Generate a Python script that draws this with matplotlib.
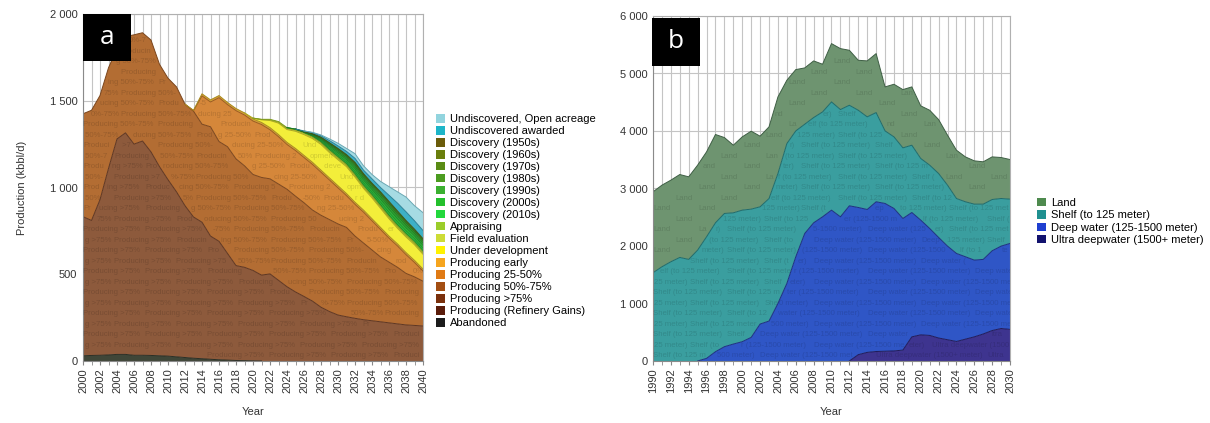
import numpy as np
import matplotlib
matplotlib.use('Agg')
import matplotlib.pyplot as plt
from matplotlib.patches import Rectangle, Patch
from matplotlib.ticker import FuncFormatter, MultipleLocator

plt.rcParams['font.family'] = ['Liberation Sans', 'DejaVu Sans']

# ---------------- Panel a data (kbbl/d) ----------------
years_a = list(range(2000, 2041))
abandoned = [30, 32, 33, 35, 38, 38, 33, 33, 32, 30, 28, 24, 20, 16, 13, 10, 7, 5, 3, 2,
             1, 0, 0, 0, 0, 0, 0, 0, 0, 0, 0, 0, 0, 0, 0, 0, 0, 0, 0, 0, 0]
refinery = [0] * 41
prod_75 = [802, 778, 897, 1075, 1242, 1277, 1217, 1235, 1173, 1090,
           1017, 951, 875, 814, 787, 710, 683, 615, 547, 538,
           521, 495, 502, 465, 428, 398, 372, 345, 310, 285,
           265, 255, 246, 238, 232, 226, 220, 214, 208, 205, 202]
prod_50_75 = [593, 635, 600, 580, 520, 555, 630, 624, 645, 590,
              585, 605, 585, 610, 565, 630, 575, 615, 615, 585,
              553, 563, 548, 555, 562, 552, 540, 525, 530, 530,
              525, 515, 474, 442, 408, 374, 350, 326, 297, 280, 258]
prod_25_50 = [0, 0, 0, 0, 0, 0, 0, 0, 0, 0,
              0, 0, 0, 3, 163, 143, 253, 243, 278, 293,
              308, 305, 283, 273, 258, 263, 261, 263, 248, 228,
              208, 183, 183, 178, 168, 158, 138, 123, 108, 83, 58]
prod_early = [0, 0, 0, 0, 0, 0, 0, 0, 0, 0,
              0, 0, 0, 2, 12, 12, 12, 12, 12, 12,
              12, 12, 12, 12, 12, 12, 12, 12, 12, 12,
              12, 12, 12, 12, 12, 12, 12, 12, 12, 12, 12]
under_dev = [0] * 20 + [5, 15, 41, 66, 74, 99, 120, 137, 148, 146,
                        150, 155, 145, 125, 120, 110, 100, 90, 90, 90, 85]
field_eval = [0] * 21 + [2, 4, 5, 6, 6, 7, 7, 8, 8,
                         8, 8, 8, 8, 8, 8, 8, 8, 8, 8, 8]
appraising = [0] * 21 + [1, 3, 4, 5, 5, 6, 6, 6, 7,
                         7, 7, 7, 7, 7, 7, 7, 7, 7, 7, 7]
disc_2010s = [0] * 25 + [0, 0, 2, 3, 4, 4, 4, 6, 6, 6, 7, 7, 7, 7, 7, 7]
disc_2000s = [0] * 25 + [0, 0, 2, 5, 7, 9, 10, 12, 12, 12, 14, 15, 15, 14, 13, 13]
disc_1990s = [0] * 25 + [1, 1, 3, 6, 9, 11, 12, 15, 15, 15, 17, 18, 18, 17, 16, 16]
disc_1980s = [0] * 25 + [1, 1, 3, 5, 8, 9, 10, 13, 13, 13, 15, 16, 16, 15, 14, 14]
disc_1970s = [0] * 25 + [0, 1, 2, 4, 6, 8, 9, 11, 11, 11, 13, 13, 13, 13, 12, 12]
disc_1960s = [0] * 25 + [0, 1, 2, 3, 5, 6, 6, 8, 8, 8, 9, 10, 10, 9, 8, 8]
disc_1950s = [0] * 25 + [0, 0, 1, 2, 3, 3, 4, 5, 5, 5, 5, 6, 6, 5, 5, 5]
undisc_awarded = [0] * 26 + [4, 6, 8, 12, 15, 18, 23, 20, 25, 25, 35, 45, 50, 48, 47]
undisc_open = [0] * 27 + [2, 5, 10, 15, 17, 27, 25, 25, 35, 50, 65, 85, 87, 103]

# bottom -> top
labels_a = ['Abandoned', 'Producing (Refinery Gains)', 'Producing >75%', 'Producing 50%-75%',
            'Producing 25-50%', 'Producing early', 'Under development', 'Field evaluation',
            'Appraising', 'Discovery (2010s)', 'Discovery (2000s)', 'Discovery (1990s)',
            'Discovery (1980s)', 'Discovery (1970s)', 'Discovery (1960s)', 'Discovery (1950s)',
            'Undiscovered awarded', 'Undiscovered, Open acreage']
series_a = [abandoned, refinery, prod_75, prod_50_75, prod_25_50, prod_early, under_dev,
            field_eval, appraising, disc_2010s, disc_2000s, disc_1990s, disc_1980s,
            disc_1970s, disc_1960s, disc_1950s, undisc_awarded, undisc_open]
fill_a = ['#3f4638', '#5e2a14', '#8d5a3c', '#b36d33', '#d5873a', '#d6a23a', '#f3ee3a',
          '#d4e040', '#b2d43a', '#3fd84c', '#2fcc3e', '#2dbd36', '#2fae30', '#3a9f2a',
          '#4a8f22', '#5f7f1e', '#3db0c6', '#a6dbe3']
edge_a = ['#2a2e24', '#3e1a0c', '#5e3520', '#7a451c', '#9a5a1e', '#a88a1e', '#b0a820',
          '#9aa820', '#7e9a20', '#1e8a2a', '#1e8a2a', '#1e8028', '#1e7a24', '#26701e',
          '#30661a', '#3e5816', '#2a8096', '#6aa8b4']
legend_a = ['#1b1b1b', '#5a1c0a', '#7a300c', '#a34e12', '#e07a14', '#f6a51e', '#fff200',
            '#cddc36', '#9bcd2a', '#22d83c', '#24c02c', '#3bb030', '#4c9c20', '#5a8c14',
            '#6a7e0c', '#6b5c0a', '#1db5c8', '#92d4de']

# ---------------- Panel b data (kbbl/d) ----------------
years_b = list(range(1990, 2031))
land = [1407, 1419, 1419, 1442, 1436, 1477, 1477, 1535, 1320, 1176,
        1274, 1356, 1228, 1246, 1332, 1101, 1066, 979, 985, 829,
        1014, 1060, 956, 869, 973, 1025, 765, 915, 1013, 1014,
        915, 955, 938, 869, 840, 781, 753, 736, 741, 713, 689]
shelf = [1535, 1639, 1726, 1801, 1767, 1929, 2114, 2242, 2317, 2282,
         2288, 2230, 2039, 2131, 2259, 2432, 2189, 1900, 1830, 1824,
         1882, 1865, 1749, 1691, 1611, 1552, 1262, 1245, 1228, 1170,
         1072, 1101, 1112, 1060, 955, 956, 973, 961, 892, 828, 770]
deep = [0, 0, 0, 0, 0, 0, 46, 162, 249, 295,
        336, 411, 643, 695, 1002, 1350, 1813, 2218, 2404, 2508,
        2624, 2508, 2699, 2560, 2485, 2604, 2570, 2478, 2289, 2163,
        1995, 1860, 1749, 1628, 1531, 1433, 1335, 1297, 1387, 1433, 1495]
ultra = [0] * 23 + [110, 150, 165, 170, 175, 190, 420,
                    455, 445, 400, 370, 340, 380, 420, 470, 530, 565, 550]
labels_b = ['Ultra deepwater (1500+ meter)', 'Deep water (125-1500 meter)',
            'Shelf (to 125 meter)', 'Land']
series_b = [ultra, deep, shelf, land]
fill_b = ['#3e348f', '#2f56c6', '#3a9e9f', '#6e9470']
edge_b = ['#1e1a5a', '#1c2f80', '#1e6a6a', '#3e5e44']
legend_b = ['#12126e', '#1f3fd0', '#1f9090', '#4e8a4e']

W, H = 1210, 423
fig = plt.figure(figsize=(W / 100, H / 100), dpi=100)
renderer = fig.canvas.get_renderer()


def fig_rect(x0, y0, x1, y1):
    return [x0 / W, 1 - y1 / H, (x1 - x0) / W, (y1 - y0) / H]


def thousands(v, pos):
    v = int(round(v))
    if v >= 1000:
        return f"{v // 1000} {v % 1000:03d}"
    return str(v)


def style_axes(ax, ymax, ystep, x0, x1):
    ax.set_xlim(x0, x1)
    ax.set_ylim(0, ymax)
    ax.yaxis.set_major_locator(MultipleLocator(ystep))
    ax.yaxis.set_major_formatter(FuncFormatter(thousands))
    ax.xaxis.set_major_locator(MultipleLocator(2))
    ax.xaxis.set_minor_locator(MultipleLocator(1))
    ax.xaxis.set_major_formatter(FuncFormatter(lambda v, p: f"{int(round(v))}"))
    ax.tick_params(axis='x', which='both', rotation=90, labelsize=8, length=3,
                   color='#888888', labelcolor='#333333', pad=2)
    ax.tick_params(axis='y', labelsize=8, length=0, labelcolor='#333333', pad=4)
    ax.grid(True, which='both', axis='x', color='#c4c4c4', linewidth=0.8)
    ax.grid(True, which='major', axis='y', color='#c4c4c4', linewidth=0.8)
    ax.set_axisbelow(True)
    for s in ax.spines.values():
        s.set_color('#b0b0b0')
        s.set_linewidth(0.8)
    ax.spines['left'].set_color('#8a8a8a')
    ax.spines['bottom'].set_color('#8a8a8a')
    ax.set_xlabel('Year', fontsize=8, color='#333333', labelpad=10)


def draw_layers(ax, years, series, fills, edges):
    polys = ax.stackplot(years, *series, colors=fills, linewidth=0, zorder=2)
    arr = np.array(series, dtype=float)
    cum = np.vstack([np.zeros(arr.shape[1]), np.cumsum(arr, axis=0)])
    for i, ec in enumerate(edges):
        th = arr[i]
        keep = th > 0
        keep = keep | np.r_[keep[1:], False] | np.r_[False, keep[:-1]]
        if not keep.any():
            continue
        ax.plot(years, np.where(keep, cum[i + 1], np.nan), color=ec, lw=0.7, zorder=2.5)
    return polys, cum


def watermark(ax, x, lo, hi, label, axpx, row_px, period_px, fs, alpha=0.14):
    xa0, xa1 = ax.get_xlim()
    ya0, ya1 = ax.get_ylim()
    wpx, hpx = axpx
    dxp = (xa1 - xa0) / wpx
    dyp = (ya1 - ya0) / hpx
    probe = ax.text(0, 0, label, fontsize=fs)
    tw = probe.get_window_extent(renderer).width * 100 / fig.dpi
    probe.remove()
    period_px = max(period_px, tw + 5)
    half_h = 3.3 * dyp
    n = len(label)
    nrow = int(hpx / row_px) + 1
    for r in range(nrow):
        yv = ya0 + (r + 0.5) * row_px * dyp
        shift = (r % 2) * period_px / 2
        for xp in np.arange(-period_px + shift, wpx, period_px):
            xa = xa0 + xp * dxp
            ns = 40
            xx = xa + (np.arange(ns) + 0.5) / ns * tw * dxp
            l = np.interp(xx, x, lo)
            h = np.interp(xx, x, hi)
            ok = (l <= yv - half_h) & (h >= yv + half_h) & (xx >= xa0) & (xx <= xa1)
            best, start, cur_s = 0, 0, None
            for k in range(ns + 1):
                if k < ns and ok[k]:
                    if cur_s is None:
                        cur_s = k
                else:
                    if cur_s is not None and k - cur_s > best:
                        best, start = k - cur_s, cur_s
                    cur_s = None
            if best == 0:
                continue
            c0 = int(np.ceil(start / ns * n))
            c1 = int(np.floor((start + best) / ns * n))
            sub = label[c0:c1]
            if len(sub.strip()) < 2:
                continue
            ax.text(xa + c0 / n * tw * dxp, yv, sub, fontsize=fs, color='black', alpha=alpha,
                    va='center', ha='left', clip_on=True, zorder=3)


# ---------------- Panel a ----------------
axa = fig.add_axes(fig_rect(83, 14, 423, 361))
style_axes(axa, 2000, 500, 2000, 2040)
polys_a, cum_a = draw_layers(axa, years_a, series_a, fill_a, edge_a)
axa.set_ylabel('Production (kbbl/d)', fontsize=8, color='#333333', labelpad=16)

wm_a = {2: ('Producing >75%', 50), 3: ('Producing 50%-75%', 60), 4: ('Producing 25-50%', 56),
        6: ('Under development', 60)}
for i, (lab, per) in wm_a.items():
    watermark(axa, years_a, cum_a[i], cum_a[i + 1], lab, (340, 347), 10.5, per, 5.6)

handles_a = [Patch(facecolor=c, edgecolor='none') for c in legend_a[::-1]]
fig.legend(handles_a, labels_a[::-1], loc='upper left', bbox_to_anchor=(436 / W, 1 - 114 / H),
           frameon=False, fontsize=8, handlelength=0.8, handleheight=0.8, handletextpad=0.5,
           labelspacing=0.17, borderpad=0, borderaxespad=0)

# ---------------- Panel b ----------------
axb = fig.add_axes(fig_rect(653, 16, 1010, 361))
style_axes(axb, 6000, 1000, 1990, 2030)
polys_b, cum_b = draw_layers(axb, years_b, series_b, fill_b, edge_b)

wm_b = {0: ('Ultra deepwater (1500+ meter)', 100), 1: ('Deep water (125-1500 meter)', 95),
        2: ('Shelf (to 125 meter)', 64), 3: ('Land', 45)}
for i, (lab, per) in wm_b.items():
    watermark(axb, years_b, cum_b[i], cum_b[i + 1], lab, (357, 345), 10.5, per, 5.6, alpha=0.13)

handles_b = [Patch(facecolor=c, edgecolor='none') for c in legend_b[::-1]]
fig.legend(handles_b, labels_b[::-1], loc='upper left', bbox_to_anchor=(1037 / W, 1 - 198 / H),
           frameon=False, fontsize=8, handlelength=0.8, handleheight=0.8, handletextpad=0.5,
           labelspacing=0.2, borderpad=0, borderaxespad=0)

# ---------------- panel tags ----------------
for (x0, y0, x1, y1, tag) in [(83, 14, 131, 61, 'a'), (652, 18, 700, 66, 'b')]:
    r = fig_rect(x0, y0, x1, y1)
    fig.patches.append(Rectangle((r[0], r[1]), r[2], r[3], transform=fig.transFigure,
                                 facecolor='black', edgecolor='none', zorder=10))
    fig.text((x0 + x1) / 2 / W, 1 - (y0 + y1) / 2 / H, tag, color='white', fontsize=19,
             ha='center', va='center', zorder=11, family=['Open Sans', 'DejaVu Sans'])

fig.savefig('out.png', dpi=100, facecolor='white')
